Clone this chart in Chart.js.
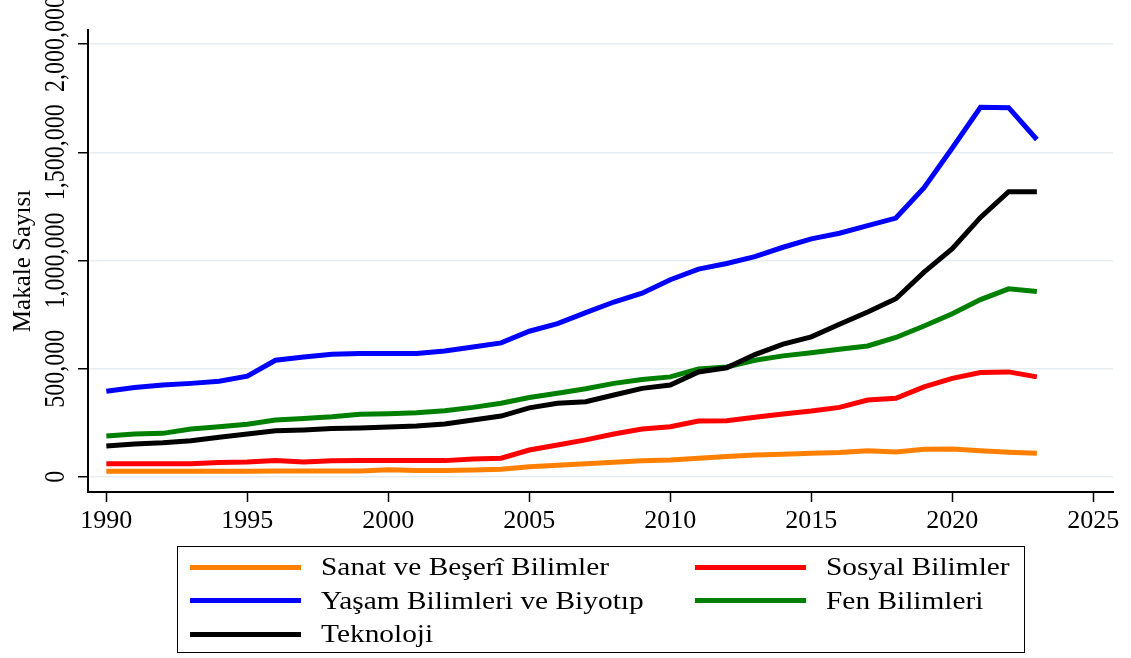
<!DOCTYPE html>
<html>
<head>
<meta charset="utf-8">
<script src="https://cdn.jsdelivr.net/npm/chart.js@4.4.0/dist/chart.umd.min.js"></script>
<style>
  body { margin: 0; background: #fff; }
  #wrap { position: relative; width: 1131px; height: 658px; }
  #legend {
    position: absolute; left: 177px; top: 546px; width: 848px; height: 107px;
    border: 1.5px solid #000; box-sizing: border-box;
    font-family: 'Liberation Serif', 'Times New Roman', serif; font-size: 26px; color: #000;
  }
  .item { position: absolute; display: flex; align-items: center; height: 34px; white-space: nowrap; }
  .swatch { display: inline-block; width: 111px; height: 5px; margin-right: 20px; }
  .name { display: inline-block; transform: scaleX(1.13); transform-origin: left center; }
</style>
</head>
<body>
<div id="wrap">
  <canvas id="myChart" width="1131" height="658"></canvas>
  <div id="legend"></div>
</div>
<script>
const years = [1990, 1991, 1992, 1993, 1994, 1995, 1996, 1997, 1998, 1999,
  2000, 2001, 2002, 2003, 2004, 2005, 2006, 2007, 2008, 2009,
  2010, 2011, 2012, 2013, 2014, 2015, 2016, 2017, 2018, 2019,
  2020, 2021, 2022, 2023]

const sanat = [26000, 26000, 26000, 26000, 26000, 26000, 27000, 27000, 27000, 27000,
  33000, 29000, 29000, 32000, 35000, 47000, 54000, 60000, 68000, 74000,
  78000, 86000, 94000, 101000, 104000, 109000, 112000, 121000, 115000, 128000,
  129000, 121000, 114000, 109000]

const sosyal = [60000, 60000, 60000, 60000, 66000, 69000, 75000, 69000, 74000, 75000,
  75000, 75000, 75000, 82000, 86000, 124000, 147000, 171000, 198000, 221000,
  232000, 258000, 259000, 275000, 290000, 304000, 321000, 355000, 363000, 416000,
  455000, 482000, 485000, 462000]

const yasam = [396000, 413000, 424000, 432000, 442000, 465000, 539000, 554000, 567000, 570000,
  570000, 570000, 582000, 600000, 619000, 673000, 708000, 759000, 808000, 849000,
  911000, 960000, 986000, 1018000, 1061000, 1100000, 1126000, 1161000, 1196000, 1336000,
  1520000, 1708000, 1706000, 1559000]

const fen = [189000, 198000, 201000, 221000, 232000, 243000, 263000, 270000, 278000, 289000,
  292000, 296000, 305000, 321000, 340000, 367000, 386000, 407000, 432000, 450000,
  462000, 498000, 508000, 539000, 559000, 574000, 590000, 605000, 644000, 697000,
  754000, 819000, 869000, 857000]

const teknoloji = [143000, 152000, 158000, 167000, 183000, 198000, 213000, 217000, 223000, 226000,
  230000, 235000, 244000, 263000, 281000, 319000, 340000, 347000, 378000, 409000,
  424000, 485000, 504000, 565000, 613000, 647000, 705000, 762000, 823000, 946000,
  1054000, 1199000, 1318000, 1318000]

const seriesNames = ['Sanat ve Beşerî Bilimler', 'Sosyal Bilimler', 'Yaşam Bilimleri ve Biyotıp', 'Fen Bilimleri', 'Teknoloji']
const seriesColors = ['#ff8000', '#ff0000', '#0000ff', '#008000', '#000000']
const seriesData = [sanat, sosyal, yasam, fen, teknoloji]

const xTicks = [1990, 1995, 2000, 2005, 2010, 2015, 2020, 2025]
const yTicks = [0, 500000, 1000000, 1500000, 2000000]
const yTickLabels = ['0', '500,000', '1,000,000', '1,500,000', '2,000,000']

const serif = "'Liberation Serif', 'Times New Roman', serif"

// y tick labels are drawn turned on their side, like the original
const rotatedYLabels = {
    id: 'rotatedYLabels',
    afterDraw(chart) {
        const ctx = chart.ctx
        const scale = chart.scales.y
        ctx.save()
        ctx.font = '24px ' + serif
        ctx.fillStyle = '#000'
        ctx.textAlign = 'center'
        ctx.textBaseline = 'alphabetic'
        yTicks.forEach((v, i) => {
            ctx.save()
            ctx.translate(64, scale.getPixelForValue(v))
            ctx.rotate(-Math.PI / 2)
            ctx.scale(1, 1.22)
            ctx.fillText(yTickLabels[i], 0, 0)
            ctx.restore()
        })
        ctx.restore()
    }
}

const datasets = seriesNames.map((name, i) => ({
    label: name,
    data: years.map((y, j) => ({ x: y, y: seriesData[i][j] })),
    borderColor: seriesColors[i],
    backgroundColor: seriesColors[i],
    borderWidth: 5,
    pointRadius: 0,
    fill: false,
    tension: 0,
    order: 5 - i
}))

new Chart(document.getElementById('myChart').getContext('2d'), {
    type: 'line',
    data: { datasets: datasets },
    plugins: [rotatedYLabels],
    options: {
        responsive: false,
        animation: false,
        devicePixelRatio: 1,
        layout: { padding: { left: 0, top: 30, right: 18, bottom: 0 } },
        plugins: { legend: { display: false }, tooltip: { enabled: false } },
        scales: {
            x: {
                type: 'linear',
                min: 1989.35,
                max: 2025.7,
                afterBuildTicks: s => { s.ticks = xTicks.map(v => ({ value: v })) },
                afterFit: s => { s.height = 166 },
                grid: { drawOnChartArea: false, tickLength: 10, tickColor: '#000', tickWidth: 1.5 },
                border: { color: '#000', width: 2 },
                ticks: {
                    color: '#000',
                    font: { family: serif, size: 26 },
                    padding: 4,
                    maxRotation: 0,
                    callback: v => String(v)
                }
            },
            y: {
                min: -70000,
                max: 2065000,
                afterBuildTicks: s => { s.ticks = yTicks.map(v => ({ value: v })) },
                afterFit: s => { s.width = 88 },
                grid: { color: '#e6eef2', lineWidth: 1.5, tickLength: 10, tickColor: '#000', tickWidth: 1.5 },
                border: { color: '#000', width: 2 },
                ticks: { display: false },
                title: {
                    display: true,
                    text: 'Makale Sayısı',
                    color: '#000',
                    font: { family: serif, size: 25 },
                    padding: { top: 8, bottom: 0 }
                }
            }
        }
    }
})

const legend = document.getElementById('legend')
seriesNames.forEach((name, i) => {
    const item = document.createElement('div')
    item.className = 'item'
    item.style.left = (i % 2 ? 517 : 12) + 'px'
    item.style.top = (3 + Math.floor(i / 2) * 33.5) + 'px'
    item.innerHTML = '<span class="swatch" style="background:' + seriesColors[i] + '"></span><span class="name">' + name + '</span>'
    legend.appendChild(item)
})
</script>
</body>
</html>
